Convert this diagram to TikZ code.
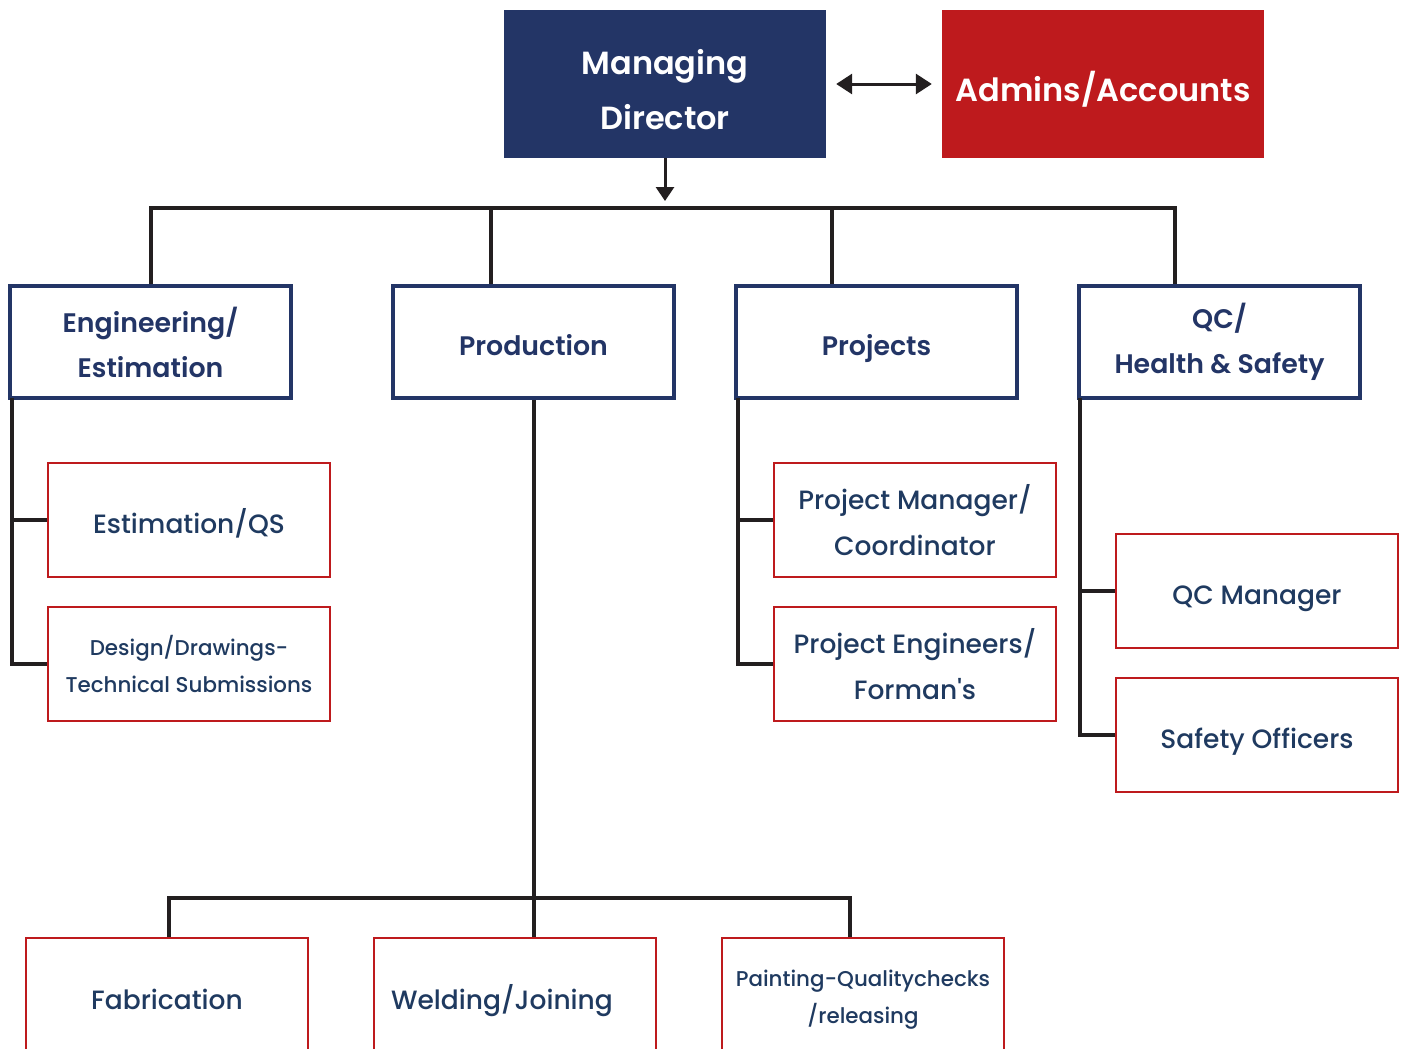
\documentclass[tikz,border=0pt]{standalone}
\usepackage{fontspec}
\setmainfont{Poppins}[BoldFont={Poppins SemiBold}]
\newfontfamily\mediumfont{Poppins Medium}
\usetikzlibrary{arrows.meta}
\definecolor{navy}{HTML}{233566}
\definecolor{subnavy}{HTML}{1F3A60}
\definecolor{boxred}{HTML}{BE1A1D}
\definecolor{linegray}{HTML}{231F20}

\begin{document}
\begin{tikzpicture}[x=1pt, y=-1pt,
        top/.style={minimum width=322pt, minimum height=148pt, inner sep=0pt, text=white,
            align=center, font=\bfseries\fontsize{32}{55}\selectfont},
        dept/.style={draw=navy, line width=4pt, fill=white, minimum width=281pt, minimum height=112pt,
            inner sep=0pt, text=navy, align=center, font=\bfseries\fontsize{26.8}{45}\selectfont},
        unit/.style={draw=boxred, line width=2.5pt, fill=white, minimum width=282pt, minimum height=114pt,
            inner sep=0pt, text=subnavy, align=center, font=\mediumfont\fontsize{26.5}{46}\selectfont},
        small/.style={font=\mediumfont\fontsize{21.4}{37}\selectfont},
        oneline/.style={text height=34pt, text depth=7pt},
        bottom/.style={minimum height=124pt, text height=26pt, text depth=7pt},
        link/.style={draw=linegray, line width=4pt}]
                \useasboundingbox (0,0) rectangle (1408,1049);
                \clip (0,0) rectangle (1408,1049);

                \node[top, fill=navy] (md) at (665,84) {\rule{0pt}{36pt}Managing\\Director};
                \node[top, fill=boxred, text height=42pt, text depth=8pt] (admin) at (1103,84) {Admins/Accounts};
                \draw[link, line width=3pt, {Triangle[length=16pt,width=20pt]}-{Triangle[length=16pt,width=20pt]}]
                    ([xshift=10pt]md.east) -- ([xshift=-10pt]admin.west);
                \coordinate (tip) at (665,201);
                \draw[link, line width=3pt, -{Triangle[length=14pt,width=18pt]}] (md.south) -- (tip);

                \node[dept] (eng) at (150.5,342) {Engineering/\\Estimation};
                \node[dept, oneline] (prod) at (533.5,342) {Production};
                \node[dept, oneline] (proj) at (876.5,342) {Projects};
                \node[dept] (qc) at (1219.5,342) {QC/\\Health \& Safety};

                \coordinate (b2) at (491,208);
                \coordinate (b3) at (832,208);
                \coordinate (b4) at (1175,208);
                \draw[link] (eng.north) |- (b4) -- (b4 |- qc.north);
                \draw[link] (b2) -- (b2 |- prod.north);
                \draw[link] (b3) -- (b3 |- proj.north);

                \node[unit, oneline] (estqs) at (189,520) {Estimation/QS};
                \node[unit, small] (design) at (189,664) {Design/Drawings-\\Technical Submissions};
                \coordinate (et) at (12,398);
                \draw[link] (et) |- (design.west);
                \draw[link] (estqs.west) -- (estqs.west -| et);

                \node[unit] (pm) at (915,520) {Project Manager/\\Coordinator};
                \node[unit] (pe) at (915,664) {Project Engineers/\\Forman's};
                \coordinate (pt) at (738,398);
                \draw[link] (pt) |- (pe.west);
                \draw[link] (pm.west) -- (pm.west -| pt);

                \node[unit, oneline] (qcm) at (1257,591) {QC Manager};
                \node[unit, oneline] (safety) at (1257,735) {Safety Officers};
                \coordinate (qt) at (1080,398);
                \draw[link] (qt) |- (safety.west);
                \draw[link] (qcm.west) -- (qcm.west -| qt);

                \node[unit, bottom] (fab) at (167,1000) {Fabrication};
                \node[unit, bottom] (weld) at (515,1000) {Welding/Joining\hspace*{26pt}};
                \node[unit, small, minimum height=124pt] (paint) at (863,1000) {Painting-Qualitychecks\\/releasing};
                \coordinate (pb1) at (169,898);
                \coordinate (pb3) at (850,898);
                \draw[link] (pb1 |- fab.north) |- (pb3) -- (pb3 |- paint.north);
                \draw[link] (prod.south) -- (prod.south |- weld.north);
            \end{tikzpicture}
\end{document}
